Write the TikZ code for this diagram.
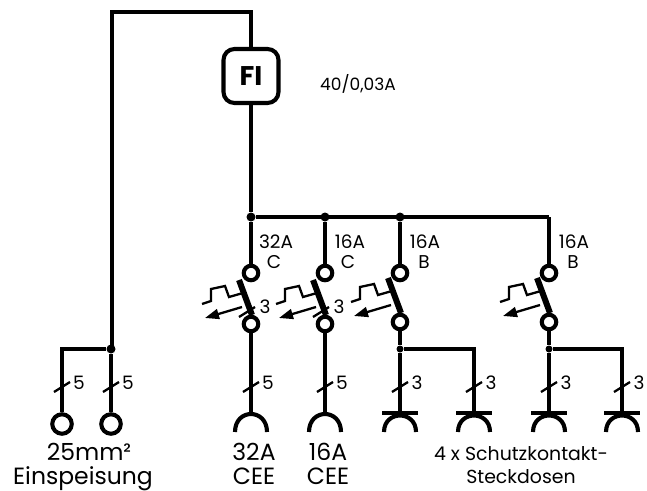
\documentclass[tikz,border=0pt]{standalone}
\usepackage{fontspec}
\setmainfont{Poppins}
\usetikzlibrary{arrows.meta}
\tikzset{
  wire/.style={line width=4.1pt,line cap=butt},
  thin wire/.style={line width=2.3pt},
  term/.style={circle,draw,line width=4.1pt,fill=white,minimum size=14.5pt,inner sep=0pt},
  feed/.style={circle,draw,line width=4.1pt,fill=white,minimum size=19.5pt,inner sep=0pt},
  dot/.style={circle,fill=black,inner sep=0pt,minimum size=9pt},
  fi/.style={draw,line width=4.1pt,rounded corners=11pt,minimum width=55pt,minimum height=54pt,font=\fontsize{27}{27}\selectfont\bfseries},
  small/.style={font=\fontsize{18.5}{18.5}\selectfont,inner sep=0pt,anchor=base},
  big/.style={font=\fontsize{23.5}{23.5}\selectfont,inner sep=0pt,anchor=base},
  mid/.style={font=\fontsize{18.9}{18.9}\selectfont,inner sep=0pt,anchor=base},
}
\begin{document}
\begin{tikzpicture}[x=1pt,y=-1pt]
\useasboundingbox (0,0) rectangle (647,490);
% top feed
\node[fi] (fi) at (251,76) {FI};
\node[font=\fontsize{17}{17}\selectfont,inner sep=0pt,anchor=base west] (firate) at (320,90) {40/0,03A};
\coordinate (tl) at (112,12);
\coordinate (tr) at (251,12);
\node[dot] (d0) at (111,349) {};
\draw[wire,line join=miter] (fi.north) -- (tr) -- (tl) -- (tl |- d0);
\coordinate (bl) at (62,349);
\node[feed] (f1) at (62,424) {};
\node[feed] (f2) at (111,424) {};
\draw[wire] (d0) -- (bl) -- (f1.north);
\draw[wire] (d0) -- (f2.north);
% bus
\node[dot] (b1) at (251,217) {};
\node[dot] (b2) at (325,217) {};
\node[dot] (b3) at (400,217) {};
\coordinate (b4) at (549,217);
\draw[wire] (fi.south) -- (b1);
\draw[wire] (b1) -- (b4);
% breakers
\foreach \n/\x/\yb in {1/251/324,2/325/324,3/400/322,4/549/322}{
  \node[term] (t\n) at (\x,273) {};
  \node[term] (u\n) at (\x,\yb) {};
  % lever
  \draw[line width=6pt] (\x-12,\yb-44) -- (\x+1,\yb-9);
  % thermal trigger
  \draw[thin wire] (\x-49,\yb-20) -- (\x-40,\yb-23) -- (\x-40,\yb-35) -- (\x-26,\yb-38) -- (\x-22,\yb-27) -- (\x-8,\yb-31);
  % release arrow
  \draw[thin wire,-{Triangle[length=14pt,width=10pt]}] (\x-9,\yb-17) -- (\x-46,\yb-6);
}
\draw[wire] (b1) -- (t1.north);
\draw[wire] (b2) -- (t2.north);
\draw[wire] (b3) -- (t3.north);
\draw[wire] (b4) -- (t4.north);
% 3-pole marks on the first two breakers
\foreach \n/\x in {1/251,2/325}{
  \draw[thin wire] (\x-12,317) -- (\x+4,307);
  \node[small] at (\x+14,313) {3};
}
% breaker ratings
\node[small] at (276,248) {32A};
\node[small] at (274,268) {C};
\node[small] at (350,248) {16A};
\node[small] at (348,268) {C};
\node[small] at (425,248) {16A};
\node[small] at (424,268) {B};
\node[small] at (574,248) {16A};
\node[small] at (573,268) {B};
% CEE sockets
\foreach \n/\x in {1/251,2/325}{
  \coordinate (s\n) at (\x,414);
  \draw[wire] (u\n.south) -- (s\n);
  \draw[wire] (\x-16,432) .. controls (\x-16,408) and (\x+16,408) .. (\x+16,432);
}
% Schuko branches
\node[dot,minimum size=7pt] (j3) at (400,349) {};
\node[dot,minimum size=7pt] (j4) at (549,349) {};
\draw[wire] (u3.south) -- (j3);
\draw[wire] (u4.south) -- (j4);
\coordinate (c1) at (400,414);
\coordinate (c2) at (474,414);
\coordinate (c3) at (549,414);
\coordinate (c4) at (622,414);
\draw[wire] (j3) -- (c1);
\draw[wire] (j4) -- (c3);
\draw[wire] (j3) -- (c2 |- j3) -- (c2);
\draw[wire] (j4) -- (c4 |- j4) -- (c4);
\foreach \x in {400,474,549,622}{
  \draw[wire] (\x-18,413) -- (\x+18,413);
  \draw[wire] (\x-16,432) .. controls (\x-16,410) and (\x+16,410) .. (\x+16,432);
}
% pole marks
\foreach \x/\l in {62/5,111/5,251/5,325/5,400/3,474/3,549/3,622/3}{
  \draw[thin wire] (\x-8,392) -- (\x+8,382);
  \node[small] at (\x+17,389) {\l};
}
% captions
\node[big] (cap1) at (89,460) {25mm²};
\node[big] (cap2) at (83,484) {Einspeisung};
\node[big] at (254,460) {32A};
\node[big] at (254,484) {CEE};
\node[big] at (328,460) {16A};
\node[big] at (328,484) {CEE};
\node[mid] at (521,460) {4 x Schutzkontakt-};
\node[mid] at (521,483) {Steckdosen};
\end{tikzpicture}
\end{document}
